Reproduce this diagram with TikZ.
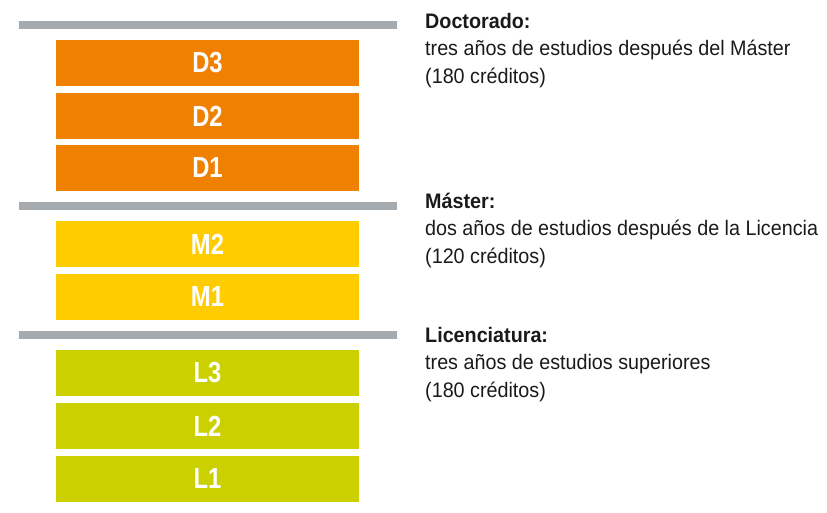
\documentclass[tikz,border=0pt]{standalone}
\usepackage{fontspec}
\setmainfont{Liberation Sans}[FakeStretch=0.94]
\newfontfamily\fuenteetiq{Liberation Sans}[FakeStretch=0.82]
\definecolor{naranja}{HTML}{EF8000}
\definecolor{amarillo}{HTML}{FFCC00}
\definecolor{lima}{HTML}{CBD100}
\definecolor{gris}{HTML}{A5ABAE}
\definecolor{texto}{HTML}{1A1A1A}
\begin{document}
\begin{tikzpicture}[x=1pt,y=-1pt,
    ciclo/.style={minimum width=303pt,minimum height=46pt,inner sep=0pt,
        text=white,font=\fuenteetiq\bfseries\fontsize{29}{29}\selectfont},
    titulo/.style={anchor=base west,inner sep=0pt,text=texto,
        font=\bfseries\fontsize{21}{21}\selectfont},
    linea/.style={anchor=base west,inner sep=0pt,text=texto,
        font=\fontsize{21}{21}\selectfont}]
    \useasboundingbox (0,0) rectangle (827,512);

    % Barras grises
    \fill[gris] (19,21) rectangle (397,29);
    \fill[gris] (19,202) rectangle (397,210);
    \fill[gris] (19,331) rectangle (397,339);

    % Doctorado
    \node[ciclo,fill=naranja] (d3) at (207.5,63) {D3};
    \node[ciclo,fill=naranja] (d2) at (207.5,116) {D2};
    \node[ciclo,fill=naranja] (d1) at (207.5,168) {D1};

    % Máster
    \node[ciclo,fill=amarillo] (m2) at (207.5,244) {M2};
    \node[ciclo,fill=amarillo] (m1) at (207.5,297) {M1};

    % Licenciatura
    \node[ciclo,fill=lima] (l3) at (207.5,373) {L3};
    \node[ciclo,fill=lima] (l2) at (207.5,426) {L2};
    \node[ciclo,fill=lima] (l1) at (207.5,479) {L1};

    % Textos
    \node[titulo] (tdoc) at (425,28) {Doctorado:};
    \node[linea] (tdoc1) at (425,55.5) {tres años de estudios después del Máster};
    \node[linea] (tdoc2) at (425,83) {(180 créditos)};

    \node[titulo] (tmas) at (425,208) {Máster:};
    \node[linea] (tmas1) at (425,235.5) {dos años de estudios después de la Licencia};
    \node[linea] (tmas2) at (425,263) {(120 créditos)};

    \node[titulo] (tlic) at (425,342) {Licenciatura:};
    \node[linea] (tlic1) at (425,369.5) {tres años de estudios superiores};
    \node[linea] (tlic2) at (425,397) {(180 créditos)};
\end{tikzpicture}
\end{document}
